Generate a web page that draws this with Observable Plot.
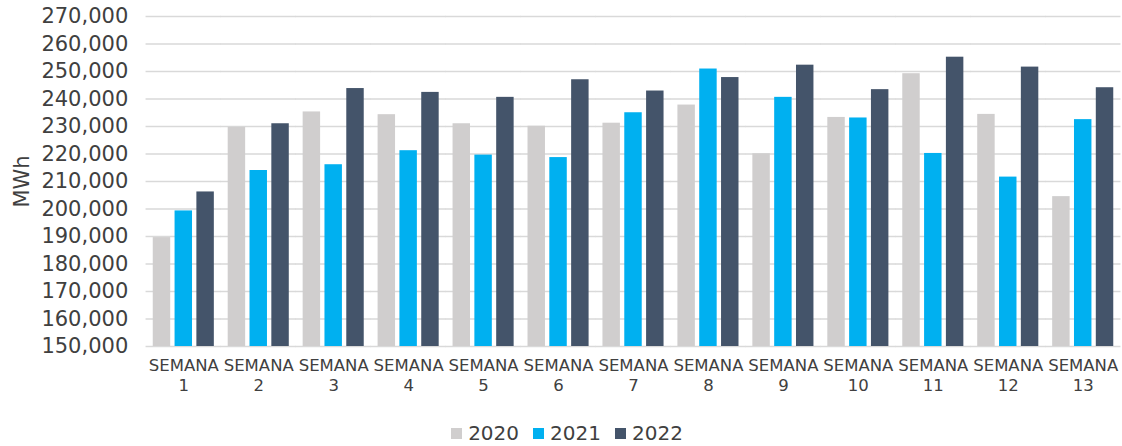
<!DOCTYPE html>
<html><head><meta charset="utf-8">
<script src="https://cdn.jsdelivr.net/npm/d3@7"></script>
<script src="https://cdn.jsdelivr.net/npm/@observablehq/plot@0.6"></script>
<style>
body{margin:0;background:#fff;font-family:"DejaVu Sans",sans-serif;}
#chart svg{display:block;}
#legend{display:flex;justify-content:center;align-items:center;height:26px;margin-top:20px;padding-left:12px;font-size:20px;color:#404040;}
#legend .item{display:flex;align-items:center;margin:0 7px;}
#legend .sw{width:11px;height:11px;margin-right:6px;}
</style></head><body><div id="chart"></div><div id="legend"></div>
<script>
const weeks = [1,2,3,4,5,6,7,8,9,10,11,12,13];
const weekLabels = weeks.map(w => "SEMANA\n" + w);
const years = ["2020","2021","2022"];
const colors = ["#d0cece","#00b0f0","#44546a"];
const v2020 = [189600,229700,235300,234300,231000,230100,231200,237800,220100,233300,249200,234400,204500];
const v2021 = [199300,214000,216100,221200,219600,218700,235000,250900,240600,233100,220200,211600,232500];
const v2022 = [206200,231000,243800,242400,240600,247000,242900,247800,252300,243400,255200,251600,244100];
const yDomain = [150000, 270000];
const yTicks = d3.range(150000, 270001, 10000);

const series = [v2020, v2021, v2022];
const data = weeks.flatMap((w, i) => years.map((y, j) => ({week: w, year: y, value: series[j][i]})));

const chart = Plot.plot({
  width: 1122,
  height: 400,
  marginLeft: 146,
  marginRight: 2,
  marginTop: 16,
  marginBottom: 54,
  style: {fontFamily: '"DejaVu Sans", sans-serif', color: "#404040", background: "#fff"},
  fx: {domain: weeks, paddingInner: 0.185, paddingOuter: 0.09, round: false, label: null, axis: null},
  x: {domain: years, paddingInner: 0.2, paddingOuter: 0, round: false, axis: null},
  y: {domain: yDomain, axis: null},
  color: {domain: years, range: colors},
  marks: [
    Plot.ruleY(yTicks, {stroke: "#d9d9d9", strokeWidth: 1.6, insetLeft: -7.2, insetRight: -7.2}),
    Plot.barY(data, {fx: "week", x: "year", y1: yDomain[0], y2: "value", fill: "year"}),
    Plot.axisY({ticks: yTicks, tickFormat: d3.format(","), tickSize: 0, tickPadding: 25, fontSize: 21, fill: "#404040",
      label: "MWh", labelAnchor: "center", labelArrow: "none", labelOffset: 139}),
    Plot.axisFx({anchor: "bottom", tickSize: 0, tickPadding: 10, fontSize: 16.5, lineHeight: 1.22, fill: "#404040", label: null,
      tickFormat: (d) => weekLabels[weeks.indexOf(d)]})
  ]
});
document.getElementById("chart").appendChild(chart);

const legend = document.getElementById("legend");
years.forEach((y, i) => {
  const it = document.createElement("div"); it.className = "item";
  const sw = document.createElement("div"); sw.className = "sw"; sw.style.background = colors[i];
  const tx = document.createElement("span"); tx.textContent = y;
  it.appendChild(sw); it.appendChild(tx); legend.appendChild(it);
});
</script></body></html>
